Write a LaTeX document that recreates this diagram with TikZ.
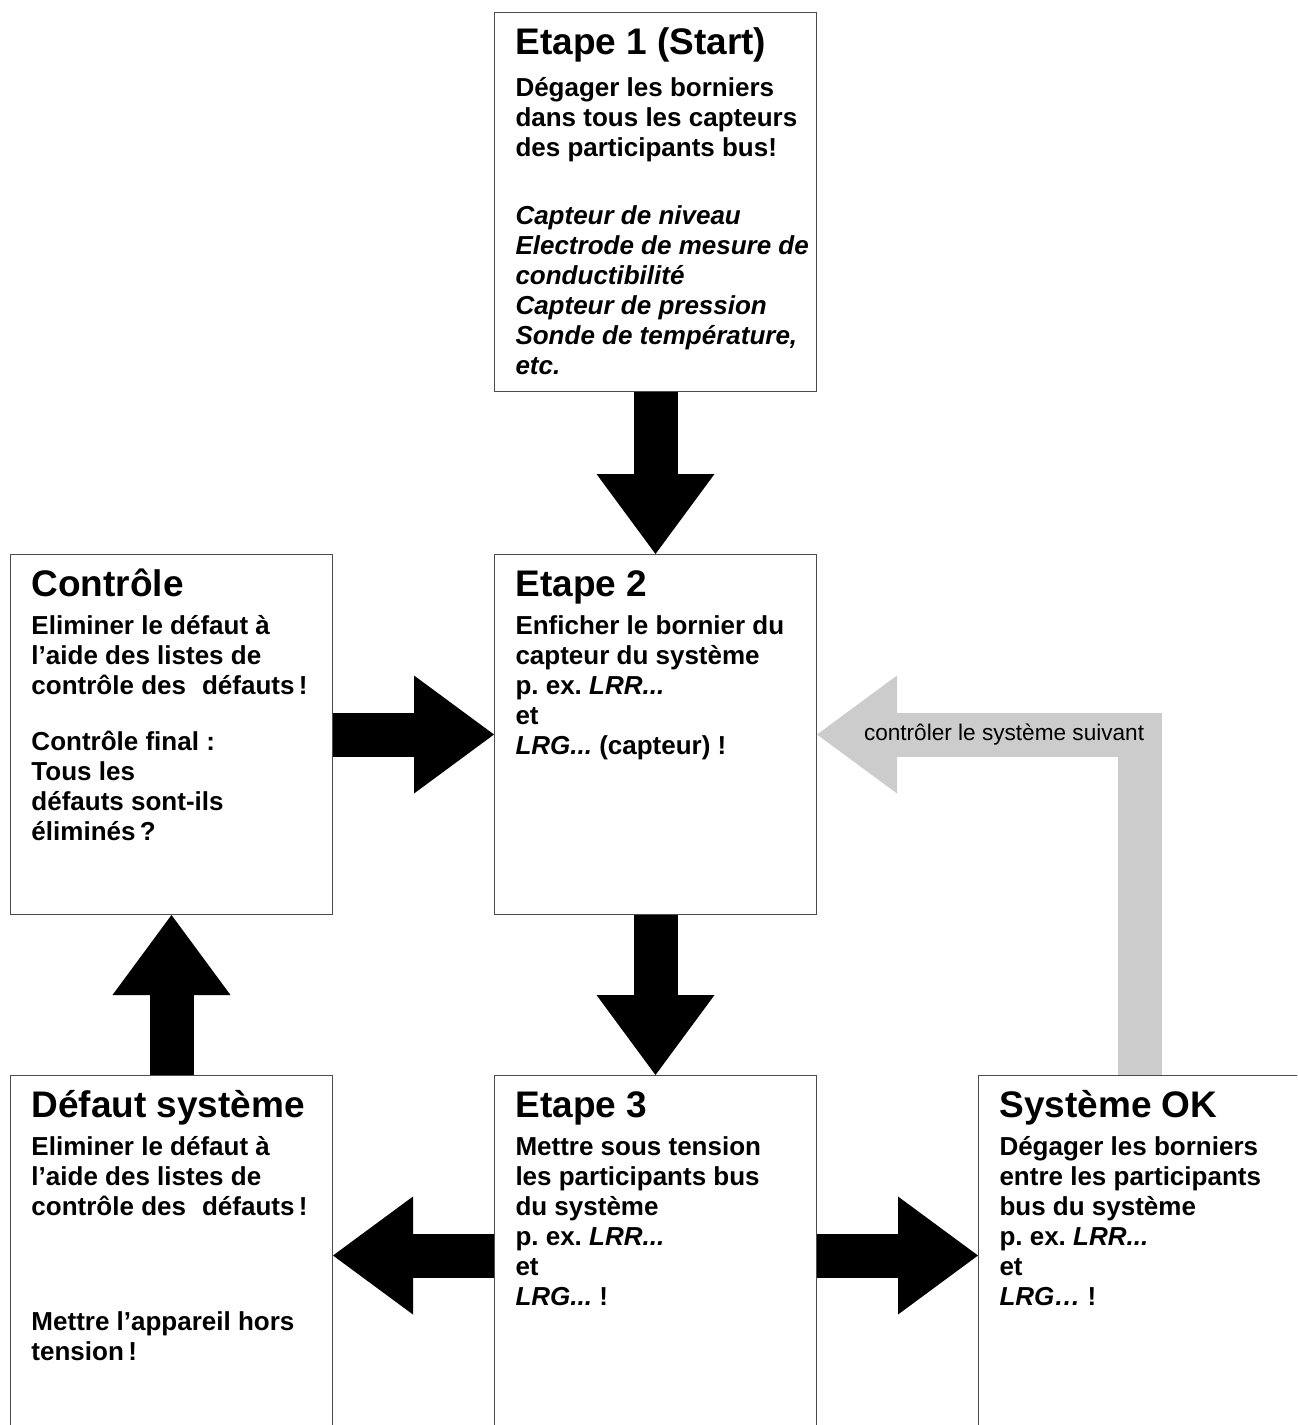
\documentclass[tikz,border=0pt]{standalone}
\usepackage{fontspec}
\setmainfont{Liberation Sans}
\usetikzlibrary{positioning, arrows.meta}

\definecolor{loopgray}{HTML}{CCCCCC}

\newcommand{\titlefont}{\fontsize{18.5}{21}\selectfont\bfseries}
\newcommand{\bodyfont}{\fontsize{13}{15}\selectfont\bfseries}
% box text: height, title, body
\newcommand{\stagetext}[3]{%
    \parbox[t][#1][t]{161pt}{\raggedright\frenchspacing\leftskip=10.5pt\lineskiplimit=-100pt
        \rule{0pt}{21pt}{\titlefont #2}\par
        \vspace{4pt}%
        {\bodyfont #3\par}}}

\tikzstyle{stagebox} = [
    rectangle,
    inner sep=0pt,
    draw=black!70, line width=0.5pt, fill=white
]
\tikzstyle{blockarrow} = [
    line width=22pt, draw=black,
    -{Triangle[length=40pt, width=59pt, line width=0pt]}
]
\tikzstyle{loopback} = [blockarrow, draw=loopgray, line join=miter]

\begin{document}
\begin{tikzpicture}[x=0.5pt, y=0.5pt]
        \useasboundingbox (0,0) rectangle (1297,-1425);
        \clip (0,0) rectangle (1297,-1425);

        % Draw blocks
        \node (etape1) [stagebox, anchor=north west] at (494,-12) {\stagetext{189.5pt}{Etape 1 (Start)}{%
            \vspace{2pt}Dégager les borniers\\ dans tous les capteurs\\ des participants bus!\\[19pt]
            \textit{Capteur de niveau}\\ \textit{Electrode de mesure de}\\ \textit{conductibilité}\\
            \textit{Capteur de pression}\\ \textit{Sonde de température,}\\ \textit{etc.}}};
        \node (etape2) [stagebox, below=81pt of etape1] {\stagetext{180pt}{Etape 2}{%
            Enficher le bornier du\\ capteur du système\\ p. ex. \textit{LRR...}\\ et\\
            \textit{LRG...} (capteur) !}};
        \node (controle) [stagebox, left=80.5pt of etape2] {\stagetext{180pt}{Contrôle}{%
            Eliminer le défaut à\\ l’aide des listes de\\ contrôle des\hspace{8pt}défauts\,!\\[13pt]
            Contrôle final :\\ Tous les\\ défauts sont-ils\\ éliminés\,?}};
        \node (etape3) [stagebox, below=80pt of etape2] {\stagetext{180pt}{Etape 3}{%
            Mettre sous tension\\ les participants bus\\ du système\\ p. ex. \textit{LRR...}\\ et\\
            \textit{LRG...} !}};
        \node (defaut) [stagebox, below=80pt of controle] {\stagetext{180pt}{Défaut système}{%
            Eliminer le défaut à\\ l’aide des listes de\\ contrôle des\hspace{8pt}défauts\,!\\[42.5pt]
            Mettre l’appareil hors\\ tension\,!}};
        \node (systemok) [stagebox, right=80.5pt of etape3] {\stagetext{180pt}{Système OK}{%
            Dégager les borniers\\ entre les participants\\ bus du système\\ p. ex. \textit{LRR...}\\ et\\
            \textit{LRG…} !}};

        % Draw arrows
        \draw [blockarrow] (etape1) -- (etape2);
        \draw [blockarrow] (controle) -- (etape2);
        \draw [blockarrow] (etape2) -- (etape3);
        \draw [blockarrow] (etape3) -- (defaut);
        \draw [blockarrow] (etape3) -- (systemok);
        \draw [blockarrow] (defaut) -- (controle);
        \draw [loopback] (systemok) |- node[pos=0.71, text=black, font=\fontsize{11.3}{13}\selectfont] {contrôler le système suivant} (etape2);
\end{tikzpicture}
\end{document}
